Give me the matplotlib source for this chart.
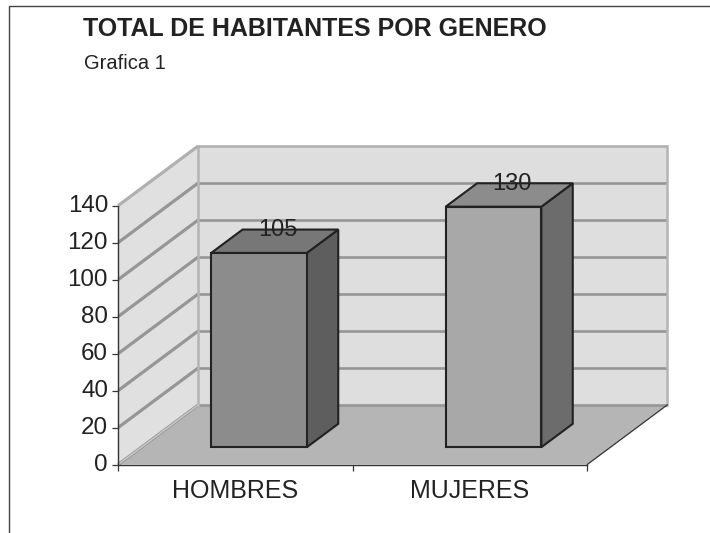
import numpy as np
import matplotlib
matplotlib.use('Agg')
import matplotlib.pyplot as plt
from matplotlib.lines import Line2D
from matplotlib.transforms import ScaledTranslation

plt.rcParams['font.family'] = ['Liberation Sans', 'DejaVu Sans']

# datos
categorias = ['HOMBRES', 'MUJERES']
habitantes = [105, 130]
valores_eje = [0, 20, 40, 60, 80, 100, 120, 140]
titulo = 'TOTAL DE HABITANTES POR GENERO'
subtitulo = 'Grafica 1'

# profundidad del falso 3D, en unidades de los ejes
prof_x = 80 / 234.5
prof_y = 59.6 / 1.85
barra_ancho = 0.408
barra_dx = 0.134
barra_dy = 12.65
barra_x0 = 0.1
barra_y0 = 9.35

TEXTO = '#222222'
col_frente = ['#8c8c8c', '#a8a8a8']
col_arriba = ['#777777', '#8c8c8c']
col_lado = ['#5e5e5e', '#6c6c6c']

W, H = 710, 533
fig = plt.figure(figsize=(W / 100, H / 100), dpi=100)
ax = fig.add_axes([118.3 / W, 1 - 464.5 / H, 469 / W, 259 / H])
n = len(categorias)
ax.set_xlim(0, n)
ax.set_ylim(0, 140)
ax.patch.set_visible(False)

# paredes y piso
ax.fill([0, prof_x, prof_x, 0], [0, prof_y, 140 + prof_y, 140], color='#e0e0e0', lw=0, clip_on=False, zorder=1)
ax.fill([prof_x, n + prof_x, n + prof_x, prof_x], [prof_y, prof_y, 140 + prof_y, 140 + prof_y], color='#dedede', lw=0, clip_on=False, zorder=1)
ax.fill([0, n, n + prof_x, prof_x], [0, 0, prof_y, prof_y], color='#b5b5b5', lw=0, clip_on=False, zorder=2)

# rejilla
for v in valores_eje:
    c = '#b0b0b0' if v == 140 else '#969696'
    ax.plot([0, prof_x], [v, v + prof_y], color=c, lw=2.3, clip_on=False, zorder=3, solid_capstyle='butt')
    ax.plot([prof_x, n + prof_x], [v + prof_y, v + prof_y], color=c, lw=1.9, clip_on=False, zorder=3, solid_capstyle='butt')
ax.plot([prof_x, prof_x], [prof_y, 140 + prof_y], color='#b4b4b4', lw=1.8, clip_on=False, zorder=3)
ax.plot([n + prof_x, n + prof_x], [prof_y, 140 + prof_y], color='#b4b4b4', lw=1.8, clip_on=False, zorder=3)
ax.plot([n, n + prof_x], [0, prof_y], color='#333333', lw=0.9, clip_on=False, zorder=3)
# la linea de 0 de la pared lateral no se ve sobre el piso
ax.plot([0, prof_x], [0, prof_y], color='#c4c4c4', lw=1.2, clip_on=False, zorder=3)

# barras
for i, val in enumerate(habitantes):
    x0 = i + 0.5 + barra_x0 - barra_ancho / 2
    x1 = x0 + barra_ancho
    y0 = barra_y0
    y1 = barra_y0 + val
    borde = dict(edgecolor='#222222', lw=1.5, joinstyle='miter', clip_on=False, zorder=5)
    ax.fill([x1, x1 + barra_dx, x1 + barra_dx, x1], [y0, y0 + barra_dy, y1 + barra_dy, y1], facecolor=col_lado[i], **borde)
    ax.fill([x0, x1, x1 + barra_dx, x0 + barra_dx], [y1, y1, y1 + barra_dy, y1 + barra_dy], facecolor=col_arriba[i], **borde)
    ax.fill([x0, x1, x1, x0], [y0, y0, y1, y1], facecolor=col_frente[i], **borde)
    ax.text((x0 + x1) / 2 + barra_dx / 2 + 0.012, y1 + barra_dy - 0.2, str(val), ha='center', va='center', fontsize=17,
            color=TEXTO, zorder=6, clip_on=False)

# ejes
for s in ['top', 'right']:
    ax.spines[s].set_visible(False)
for s in ['left', 'bottom']:
    ax.spines[s].set_color('#333333')
    ax.spines[s].set_linewidth(1.0)
    ax.spines[s].set_zorder(4)
ax.set_yticks(valores_eje)
ax.tick_params(axis='y', length=4.5, width=0.9, color='#333333', labelsize=17.4, labelcolor=TEXTO, pad=3)
sube = ScaledTranslation(0, 1.5 / 72, fig.dpi_scale_trans)
for t in ax.get_yticklabels():
    t.set_transform(t.get_transform() + sube)
ax.set_xticks(np.arange(n + 1))
ax.set_xticklabels([])
ax.tick_params(axis='x', which='major', length=4.5, width=0.9, color='#333333')
ax.set_xticks(np.arange(n) + 0.5, minor=True)
ax.set_xticklabels(categorias, minor=True, fontsize=18, color=TEXTO)
ax.tick_params(axis='x', which='minor', length=0, pad=10.8)

# titulo y marco
fig.text(83 / W, 1 - 28.8 / H, titulo, fontsize=18.0, fontweight='bold', color=TEXTO, ha='left', va='center')
fig.text(83.5 / W, 1 - 63.5 / H, subtitulo, fontsize=14.5, color=TEXTO, ha='left', va='center')
fig.add_artist(Line2D([9.2 / W, 9.2 / W, 1], [0, 1 - 5.5 / H, 1 - 5.5 / H], color='#444444', lw=1.0))

fig.savefig('out.png', dpi=100)
